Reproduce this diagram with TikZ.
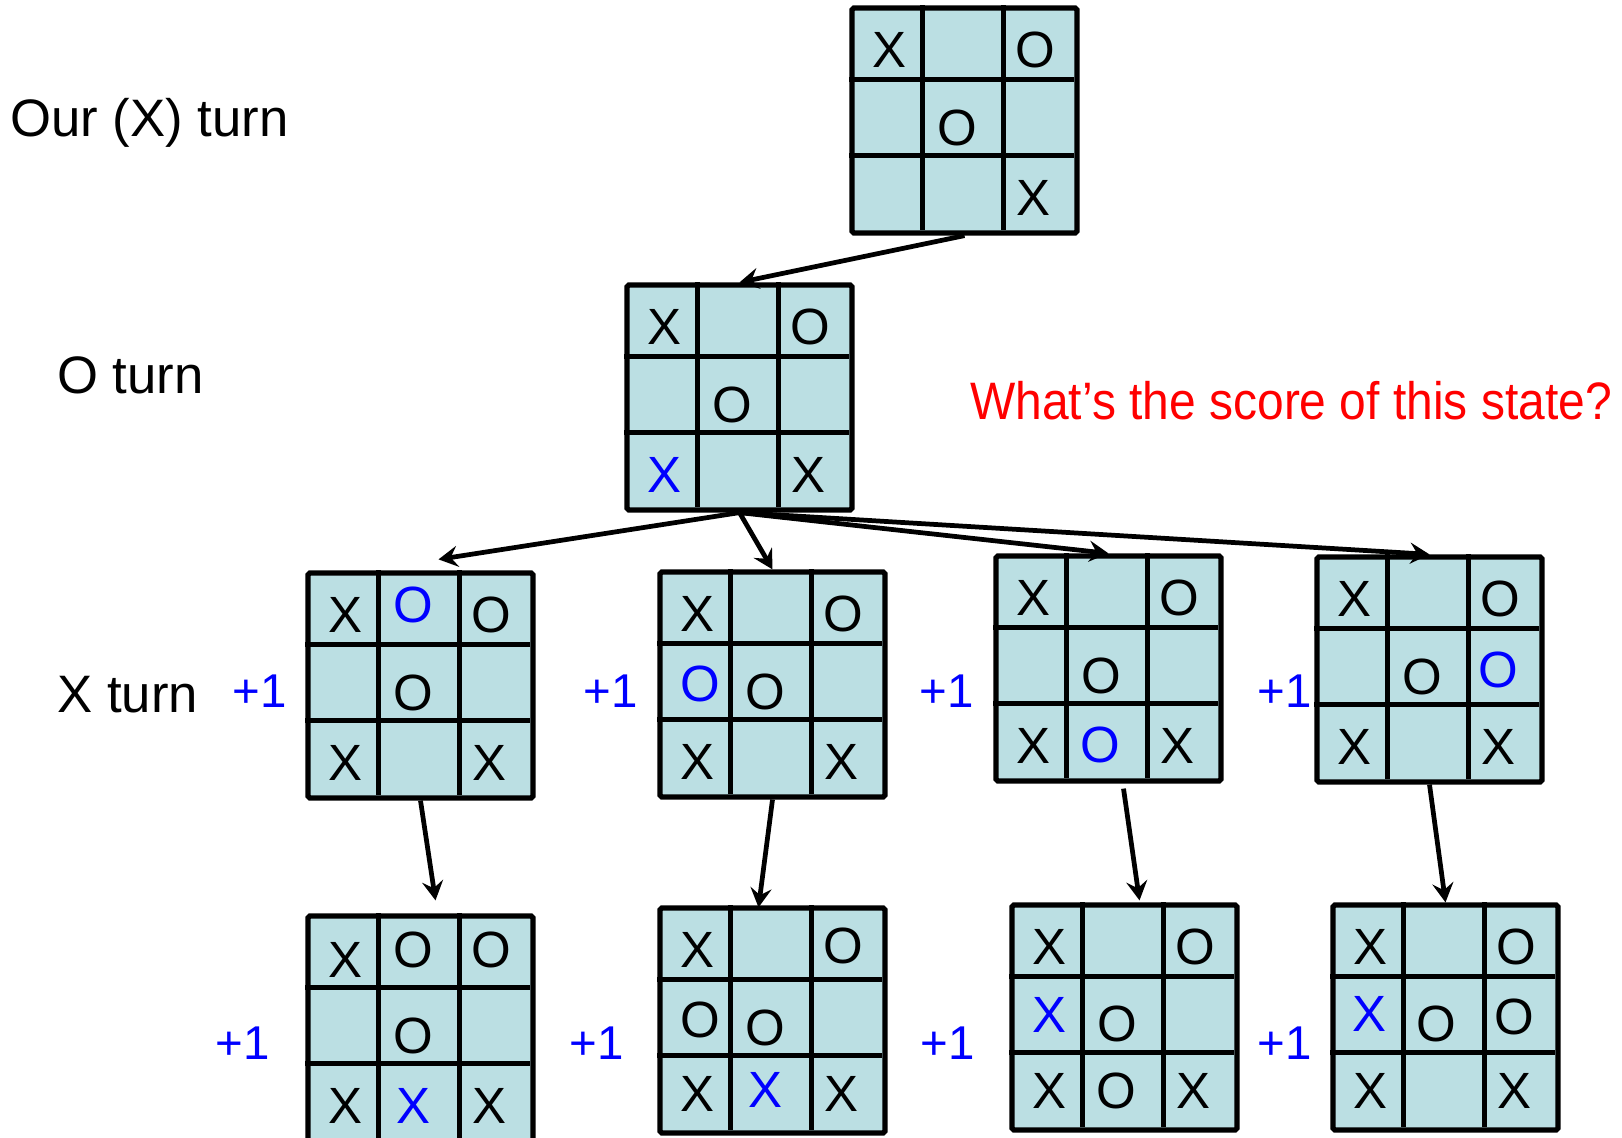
\documentclass[tikz,border=0pt]{standalone}
\usepackage{fontspec}
\setmainfont{Liberation Sans}
\newfontfamily\narrowsans[FakeStretch=0.91]{Liberation Sans}
\definecolor{cellblue}{RGB}{187,223,227}
\definecolor{moveblue}{RGB}{0,0,255}
\definecolor{askred}{RGB}{255,0,0}
\usetikzlibrary{arrows.meta, calc}

\newcommand{\tttboard}[3]{%
  \node[board] (#1) at (#2) {};
  \begin{scope}[shift={(#1.north west)}]
    \draw[gridline] (73,0) -- (73,225) (154,0) -- (154,225) (0,74) -- (225,74) (0,150) -- (225,150);
    \foreach \cx/\cy/\mk/\col [count=\k] in {#3}
      \node[cellmark, text=\col] (#1-\k) at (\cx,\cy) {\mk};
  \end{scope}}

\begin{document}
\begin{tikzpicture}[x=0.02cm, y=-0.02cm,
    board/.style={draw, fill=cellblue, line width=3pt, rounded corners=1pt, minimum size=4.5cm, inner sep=0pt},
    gridline/.style={line width=3pt},
    cellmark/.style={inner sep=0pt, font=\fontsize{29}{33}\selectfont},
    edge/.style={line width=2.7pt, -{Stealth[length=11pt, width=12pt, inset=4pt]}},
    turnlabel/.style={anchor=base west, inner sep=0pt, font=\fontsize{30}{35}\selectfont},
    score/.style={anchor=base, inner sep=0pt, text=moveblue, font=\fontsize{27}{31}\selectfont}]
  \useasboundingbox (0,0) rectangle (1622,1138);

  \tttboard{b0}{964.5,120.5}{40/45/X/black, 186/45/O/black, 108/123/O/black, 184/193/X/black}
  \tttboard{b1}{739.5,397.5}{40/45/X/black, 186/45/O/black, 108/123/O/black, 40/193/X/moveblue, 184/193/X/black}

  \tttboard{b2a}{420.5,685.5}{40/45/X/black, 108/35/O/moveblue, 186/45/O/black, 108/123/O/black, 40/193/X/black, 184/193/X/black}
  \tttboard{b2b}{772.5,684.5}{40/45/X/black, 186/45/O/black, 43/115/O/moveblue, 108/123/O/black, 40/193/X/black, 184/193/X/black}
  \tttboard{b2c}{1108.5,668.5}{40/45/X/black, 186/45/O/black, 108/123/O/black, 40/193/X/black, 107/192/O/moveblue, 184/193/X/black}
  \tttboard{b2d}{1429.5,669.5}{40/45/X/black, 186/45/O/black, 108/123/O/black, 184/116/O/moveblue, 40/193/X/black, 184/193/X/black}

  \tttboard{b3a}{420.5,1028.5}{40/47/X/black, 108/37/O/black, 186/37/O/black, 108/123/O/black, 40/193/X/black, 108/193/X/moveblue, 184/193/X/black}
  \tttboard{b3b}{772.5,1020.5}{40/45/X/black, 186/41/O/black, 43/115/O/black, 108/123/O/black, 40/189/X/black, 108/185/X/moveblue, 184/189/X/black}
  \tttboard{b3c}{1124.5,1017.5}{40/45/X/black, 186/45/O/black, 40/113/X/moveblue, 108/122/O/black, 40/189/X/black, 107/189/O/black, 184/189/X/black}
  \tttboard{b3d}{1445.5,1017.5}{40/45/X/black, 186/45/O/black, 39/112/X/moveblue, 106/122/O/black, 184/115/O/black, 40/189/X/black, 184/189/X/black}

  \node[turnlabel] (ourturn) at (10,137) {Our (X) turn};
  \node[turnlabel] (oturn) at (57,393) {O turn};
  \node[turnlabel] (xturn) at (57,712) {X turn};
  \node[anchor=base west, inner sep=0pt, text=askred, font=\narrowsans\fontsize{30}{34}\selectfont] (question) at (970,419) {What’s the score of this state?};

  \node[score] (s2a) at (260,707) {+1};
  \node[score] (s2b) at (611,707) {+1};
  \node[score] (s2c) at (947,707) {+1};
  \node[score] (s2d) at (1285,707) {+1};
  \node[score] (s3a) at (243,1059) {+1};
  \node[score] (s3b) at (597,1059) {+1};
  \node[score] (s3c) at (948,1059) {+1};
  \node[score] (s3d) at (1285,1059) {+1};

  \draw[edge] (b0.south) -- (b1.north);
  \draw[edge] (b1.south) -- ($(b2a.north)+(18,-11)$);
  \draw[edge] (b1.south) -- (b2b.north);
  \draw[edge] (b1.south) -- (b2c.north);
  \draw[edge] (b1.south) -- (b2d.north);
  \draw[edge] (b2a.south) -- ($(b3a.north)+(15,-13)$);
  \draw[edge] (b2b.south) -- ($(b3b.north)+(-14,2)$);
  \draw[edge] ($(b2c.south)+(15,5)$) -- ($(b3c.north)+(15,-2)$);
  \draw[edge] (b2d.south) -- (b3d.north);
\end{tikzpicture}
\end{document}
